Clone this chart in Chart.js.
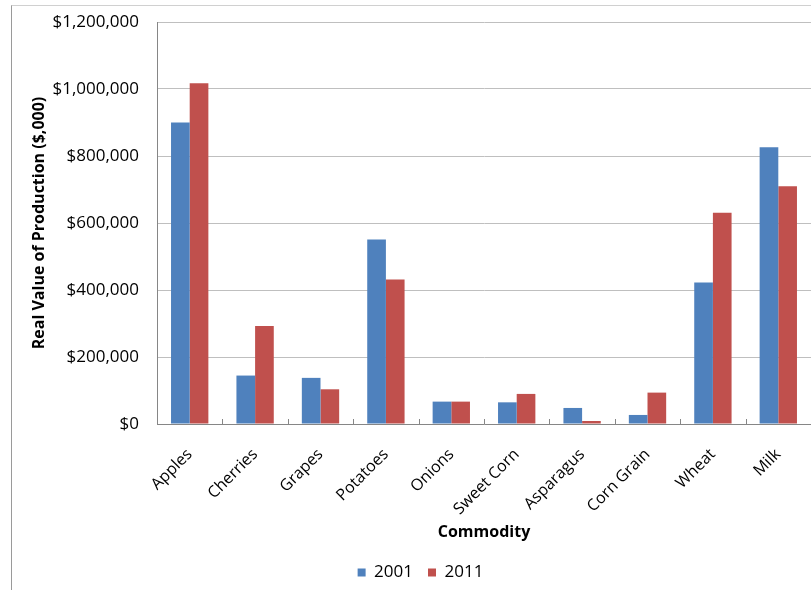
<!DOCTYPE html>
<html>
<head>
<meta charset="utf-8">
<title>Real Value of Production by Commodity</title>
<script src="https://cdn.jsdelivr.net/npm/chart.js"></script>
<style>
  html, body {
    margin: 0;
    padding: 0;
    width: 811px;
    height: 590px;
    overflow: hidden;
    background: #fff;
    font-family: "Open Sans", Arial, sans-serif;
  }
  .frame {
    position: absolute;
    left: 11px;
    top: 5px;
    width: 900px;
    height: 700px;
    border-left: 1px solid #9a9a9a;
    border-top: 1px solid #d0d0d0;
  }
  .wrap {
    position: absolute;
    left: 0;
    top: 0;
    width: 835px;
    height: 600px;
  }
</style>
</head>
<body>
<div class="frame"></div>
<div class="wrap"><canvas id="chart"></canvas></div>
<script>
  // data
  const commodities = ["Apples", "Cherries", "Grapes", "Potatoes", "Onions", "Sweet Corn", "Asparagus", "Corn Grain", "Wheat", "Milk"];
  const values2001 = [900000, 144600, 137700, 551000, 66800, 64700, 47900, 27000, 422200, 826300];
  const values2011 = [1017000, 292200, 103600, 431100, 66800, 89800, 9000, 93700, 630500, 709600];
  const seriesNames = ["2001", "2011"];
  const yTicks = [0, 200000, 400000, 600000, 800000, 1000000, 1200000];

  const AXIS = '#868686';
  const GRID = '#bfbfbf';

  // small tick marks inside the plot at the category boundaries
  const insideTicks = {
    id: 'insideTicks',
    afterDatasetsDraw(chart) {
      const x = chart.scales.x;
      const ctx = chart.ctx;
      const bottom = chart.chartArea.bottom;
      const step = x.getPixelForValue(1) - x.getPixelForValue(0);
      ctx.save();
      ctx.strokeStyle = AXIS;
      ctx.lineWidth = 1;
      for (let i = 0; i <= commodities.length; i++) {
        const px = Math.round(x.getPixelForValue(i) - step / 2) + 0.5;
        ctx.beginPath();
        ctx.moveTo(px, bottom - 5);
        ctx.lineTo(px, bottom);
        ctx.stroke();
      }
      ctx.restore();
    }
  };

  Chart.defaults.font.family = '"Open Sans", Arial, sans-serif';
  Chart.defaults.font.size = 16;
  Chart.defaults.color = '#000';

  new Chart(document.getElementById('chart'), {
    type: 'bar',
    data: {
      labels: commodities,
      datasets: [
        { label: seriesNames[0], data: values2001, backgroundColor: '#4f81bd' },
        { label: seriesNames[1], data: values2011, backgroundColor: '#c0504d' }
      ]
    },
    options: {
      responsive: true,
      maintainAspectRatio: false,
      animation: false,
      categoryPercentage: 0.571,
      barPercentage: 1,
      layout: { padding: { left: 30, right: 24, top: 22, bottom: 9 } },
      plugins: {
        tooltip: { enabled: false },
        legend: {
          position: 'bottom',
          labels: {
            boxWidth: 8,
            boxHeight: 8,
            padding: 15,
            font: { size: 17 }
          }
        }
      },
      scales: {
        x: {
          afterFit(scale) {
            scale.height = 125;
          },
          grid: { display: false },
          border: { color: AXIS },
          ticks: { minRotation: 45, maxRotation: 45, padding: 13, autoSkip: false },
          title: { display: true, text: 'Commodity', font: { weight: 'bold', size: 16 }, padding: { top: 0, bottom: 7 } }
        },
        y: {
          min: 0,
          max: 1200000,
          afterBuildTicks(scale) {
            scale.ticks = yTicks.map(v => ({ value: v }));
          },
          afterFit(scale) {
            scale.width = 127;
            scale.paddingTop = 0;
            scale.paddingBottom = 0;
          },
          grid: { color: GRID, drawTicks: false },
          border: { color: AXIS },
          ticks: {
            padding: 18,
            font: { size: 17 },
            callback: v => '$' + Number(v).toLocaleString('en-US')
          },
          title: { display: true, text: 'Real Value of Production ($,000)', font: { weight: 'bold', size: 16 }, padding: { top: 0, bottom: 0 } }
        }
      }
    },
    plugins: [insideTicks]
  });
</script>
</body>
</html>
